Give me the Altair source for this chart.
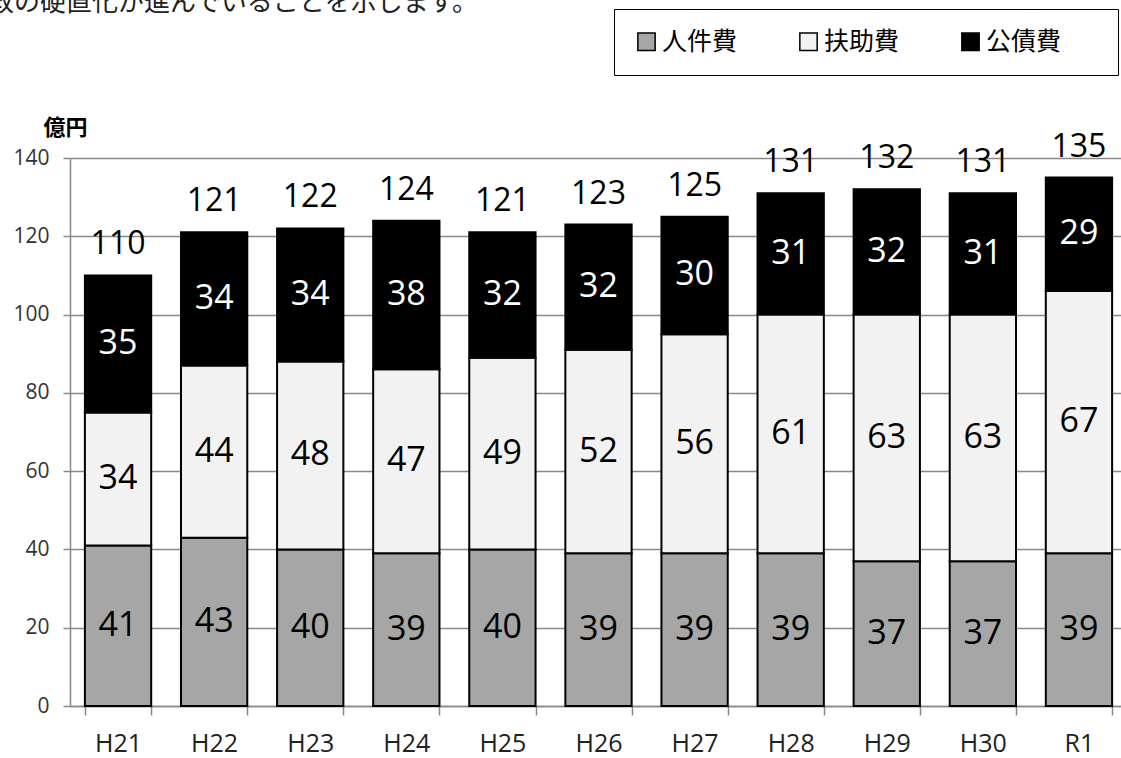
import altair as alt
import pandas as pd

years = ["H21", "H22", "H23", "H24", "H25", "H26", "H27", "H28", "H29", "H30", "R1"]
jinken = [41, 43, 40, 39, 40, 39, 39, 39, 37, 37, 39]
fujo = [34, 44, 48, 47, 49, 52, 56, 61, 63, 63, 67]
kosai = [35, 34, 34, 38, 32, 32, 30, 31, 32, 31, 29]
totals = [110, 121, 122, 124, 121, 123, 125, 131, 132, 131, 135]
categories = ["人件費", "扶助費", "公債費"]
colors = ["#a6a6a6", "#f2f2f2", "#000000"]
text_colors = ["#000000", "#000000", "#ffffff"]
y_ticks = [0, 20, 40, 60, 80, 100, 120, 140]
note = "財政の硬直化が進んでいることを示します。"

rows = []
for i, yr in enumerate(years):
    for k, (cat, vals) in enumerate(zip(categories, [jinken, fujo, kosai])):
        rows.append({"year": yr, "cat": cat, "value": vals[i], "order": k, "tcolor": text_colors[k]})
df = pd.DataFrame(rows)
tot_df = pd.DataFrame({"year": years, "total": totals})
note_df = pd.DataFrame({"note": [note]})

GRID = "#898989"
NUM_FONT = "Open Sans"
JP_FONT = "Noto Sans CJK JP"

xenc = alt.X(
    "year:N", sort=years,
    scale=alt.Scale(range=[0, 1057], paddingInner=0.31, paddingOuter=0.155),
    axis=alt.Axis(title=None, labelAngle=0, tickBand="extent", tickSize=9, tickColor=GRID,
                  tickWidth=1.5, domainColor=GRID, domainWidth=1.5, labelFont=NUM_FONT,
                  labelFontSize=25, labelColor="#222222", labelPadding=16, grid=False),
)
yscale = alt.Scale(domain=[0, 140], nice=False)

base = alt.Chart(df).transform_stack(
    stack="value", groupby=["year"], as_=["y0", "y1"], sort=[alt.SortField("order")]
)

bars = base.mark_bar(stroke="black", strokeWidth=2).encode(
    x=xenc,
    y=alt.Y("y0:Q", scale=yscale,
            axis=alt.Axis(values=y_ticks, title="億円", titleAngle=0, titleX=-27, titleY=-31,
                          titleAlign="left", titleBaseline="middle", titleFont=JP_FONT,
                          titleFontSize=22, titleFontWeight="bold", titleColor="#000000",
                          labelFont=NUM_FONT, labelFontSize=21, labelColor="#333333",
                          labelPadding=14, tickSize=7, tickColor=GRID, tickWidth=1.5,
                          domainColor=GRID, domainWidth=1.5, gridColor=GRID, gridWidth=1.5)),
    y2="y1:Q",
    color=alt.Color(
        "cat:N", sort=categories,
        scale=alt.Scale(domain=categories, range=colors),
        legend=alt.Legend(
            title=None, orient="none", legendX=544, legendY=-149, direction="horizontal",
            symbolType="square", symbolSize=300, symbolStrokeColor="black",
            symbolStrokeWidth=1.5, symbolOpacity=1, labelFont=JP_FONT, labelFontSize=25,
            labelColor="#000000", labelOffset=3, columnPadding=58, padding=20,
            strokeColor="black", fillColor="white", labelLimit=400,
            labelExpr="datum.label == '人件費' ? '\u2002' + datum.label : (datum.label == '公債費' ? datum.label + '\u2800\u2800' : datum.label)",
        ),
    ),
    order=alt.Order("order:Q"),
)

seg_labels = base.transform_calculate(mid="(datum.y0 + datum.y1) / 2").mark_text(
    font=NUM_FONT, fontSize=34, baseline="middle", align="center"
).encode(
    x=alt.X("year:N", sort=years),
    y=alt.Y("mid:Q", scale=yscale),
    text=alt.Text("value:Q"),
    color=alt.Color("tcolor:N", scale=None),
)

tot_labels = alt.Chart(tot_df).mark_text(
    font=NUM_FONT, fontSize=32, baseline="alphabetic", align="center", dy=-21, color="#000000"
).encode(
    x=alt.X("year:N", sort=years),
    y=alt.Y("total:Q", scale=yscale),
    text=alt.Text("total:Q"),
)

note_text = alt.Chart(note_df).mark_text(
    font=JP_FONT, fontSize=26, align="left", baseline="alphabetic", color="#222222"
).encode(
    x=alt.value(-108), y=alt.value(-147), text="note:N"
)

chart = alt.layer(bars, seg_labels, tot_labels, note_text).properties(
    width=1051, height=548,
    autosize=alt.AutoSizeParams(type="none"),
    padding={"left": 70, "top": 158, "right": 0, "bottom": 52},
    background="white",
).configure_view(stroke=None)

chart.save("out.html", embed_options={"renderer": "svg", "actions": False})
